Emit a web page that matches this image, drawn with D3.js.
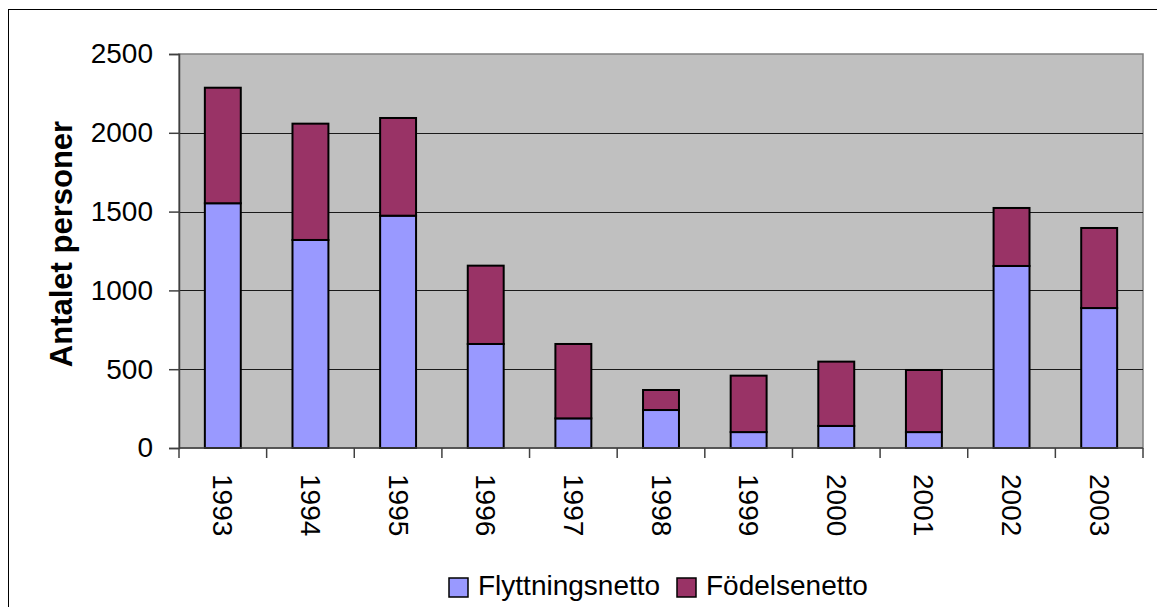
<!DOCTYPE html>
<html>
<head>
<meta charset="utf-8">
<script src="https://cdn.jsdelivr.net/npm/d3@7"></script>
<style>
  body { margin: 0; background: #fff; }
  text { font-family: Arial, "Liberation Sans", sans-serif; fill: #000; }
</style>
</head>
<body>
<svg id="chart" width="1157" height="607"></svg>
<script>
const years = ['1993', '1994', '1995', '1996', '1997', '1998', '1999', '2000', '2001', '2002', '2003'];
const flyttningsnetto = [1553, 1320, 1474, 660, 188, 241, 101, 140, 101, 1155, 888];
const fodelsenetto = [733, 738, 620, 497, 472, 127, 358, 408, 394, 368, 508];
const yTicks = [0, 500, 1000, 1500, 2000, 2500];
const seriesNames = ['Flyttningsnetto', 'Födelsenetto'];

const width = 1157;
const height = 607;
const plot = { left: 179, right: 1143, top: 54, bottom: 448 };

const color = d3.scaleOrdinal()
  .domain(seriesNames)
  .range(['#9999FF', '#993366']);

const rows = years.map((y, i) => ({
  year: y,
  Flyttningsnetto: flyttningsnetto[i],
  Födelsenetto: fodelsenetto[i]
}));

const svg = d3.select('#chart');

// outer chart border
svg.append('rect')
  .attr('x', 8.5)
  .attr('y', 9.5)
  .attr('width', width + 10)
  .attr('height', height + 10)
  .attr('fill', '#fff')
  .attr('stroke', '#000')
  .attr('stroke-width', 1);

const xscale = d3.scaleBand()
  .domain(years)
  .range([plot.left, plot.right])
  .padding(0);

const yscale = d3.scaleLinear()
  .domain([0, 2500])
  .range([plot.bottom, plot.top]);

// plot background
svg.append('rect')
  .attr('x', plot.left)
  .attr('y', plot.top)
  .attr('width', plot.right - plot.left)
  .attr('height', plot.bottom - plot.top)
  .attr('fill', '#C0C0C0')
  .attr('stroke', '#808080')
  .attr('stroke-width', 1.5);

// gridlines
svg.append('g')
  .selectAll('line')
  .data(yTicks.filter(d => d > 0 && d < 2500))
  .enter()
  .append('line')
  .attr('x1', plot.left)
  .attr('x2', plot.right)
  .attr('y1', d => Math.round(yscale(d)) + 0.5)
  .attr('y2', d => Math.round(yscale(d)) + 0.5)
  .attr('stroke', '#1a1a1a')
  .attr('stroke-width', 1);

// stacked bars
const stackedData = d3.stack().keys(seriesNames)(rows);
const barWidth = xscale.bandwidth() * 0.41;

svg.append('g')
  .selectAll('g')
  .data(stackedData)
  .enter()
  .append('g')
    .attr('fill', d => color(d.key))
    .selectAll('rect')
    .data(d => d)
    .enter().append('rect')
      .attr('x', d => xscale(d.data.year) + (xscale.bandwidth() - barWidth) / 2)
      .attr('y', d => yscale(d[1]))
      .attr('width', barWidth)
      .attr('height', d => yscale(d[0]) - yscale(d[1]))
      .attr('stroke', '#000')
      .attr('stroke-width', 2);

// left axis
const leftAxis = d3.axisLeft(yscale)
  .tickValues(yTicks)
  .tickFormat(d3.format('d'))
  .tickSize(10)
  .tickPadding(16);

const yAxisG = svg.append('g')
  .attr('transform', `translate(${plot.left}, 0)`)
  .call(leftAxis);
yAxisG.select('.domain').attr('stroke', '#404040').attr('stroke-width', 1.5);
yAxisG.selectAll('.tick line').attr('stroke', '#404040').attr('stroke-width', 1.5);
yAxisG.selectAll('.tick text')
  .style('font-size', '28px')
  .style('font-family', 'Arial, "Liberation Sans", sans-serif')
  .attr('fill', '#000');

// bottom axis: line and ticks at category boundaries
const xAxisG = svg.append('g');
xAxisG.append('line')
  .attr('x1', plot.left)
  .attr('x2', plot.right)
  .attr('y1', plot.bottom)
  .attr('y2', plot.bottom)
  .attr('stroke', '#404040')
  .attr('stroke-width', 1.5);

xAxisG.selectAll('line.tick')
  .data(d3.range(years.length + 1))
  .enter()
  .append('line')
  .attr('class', 'tick')
  .attr('x1', i => plot.left + i * xscale.step())
  .attr('x2', i => plot.left + i * xscale.step())
  .attr('y1', plot.bottom)
  .attr('y2', plot.bottom + 10)
  .attr('stroke', '#404040')
  .attr('stroke-width', 1.5);

xAxisG.selectAll('text')
  .data(years)
  .enter()
  .append('text')
  .text(d => d)
  .attr('transform', d => `translate(${xscale(d) + xscale.bandwidth() / 2}, 474) rotate(90)`)
  .attr('text-anchor', 'start')
  .attr('dominant-baseline', 'central')
  .style('font-size', '28px');

// y axis title
svg.append('text')
  .text('Antalet personer')
  .attr('transform', `translate(61, 244) rotate(-90)`)
  .attr('text-anchor', 'middle')
  .attr('dominant-baseline', 'central')
  .style('font-size', '31px')
  .style('font-weight', 'bold');

// legend
const legend = svg.append('g');
const legendX = [449, 677];

legend.selectAll('rect')
  .data(seriesNames)
  .enter()
  .append('rect')
  .attr('x', (d, i) => legendX[i])
  .attr('y', 578)
  .attr('width', 19)
  .attr('height', 19)
  .attr('fill', d => color(d))
  .attr('stroke', '#000')
  .attr('stroke-width', 1.5);

legend.selectAll('text')
  .data(seriesNames)
  .enter()
  .append('text')
  .text(d => d)
  .attr('x', (d, i) => legendX[i] + 29)
  .attr('y', 595)
  .style('font-size', '28px');
</script>
</body>
</html>
